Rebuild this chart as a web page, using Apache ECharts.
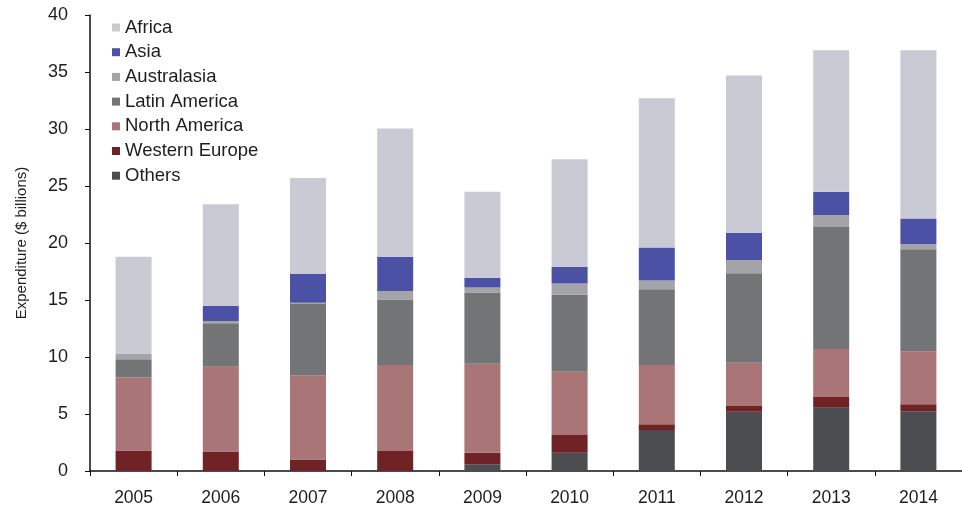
<!DOCTYPE html>
<html>
<head>
<meta charset="utf-8">
<script src="https://cdn.jsdelivr.net/npm/echarts@6/dist/echarts.min.js"></script>
<style>
  html, body { margin: 0; padding: 0; background: #fff; }
  #chart { width: 962px; height: 518px; }
</style>
</head>
<body>
<div id="chart"></div>
<script>
// data
const years = ['2005', '2006', '2007', '2008', '2009', '2010', '2011', '2012', '2013', '2014'];
const yTicks = [0, 5, 10, 15, 20, 25, 30, 35, 40];

// stacked bottom -> top
const others        = [0,    0,    0,    0,    0.6,  1.6,  3.6,  5.2,  5.55, 5.25];
const westernEurope = [1.8,  1.7,  1.0,  1.75, 1.0,  1.55, 0.5,  0.5,  0.95, 0.6];
const northAmerica  = [6.4,  7.45, 7.4,  7.55, 7.8,  5.55, 5.2,  3.8,  4.2,  4.65];
const latinAmerica  = [1.6,  3.8,  6.25, 5.75, 6.25, 6.75, 6.65, 7.85, 10.7, 8.95];
const australasia   = [0.5,  0.2,  0.1,  0.75, 0.45, 1.0,  0.75, 1.15, 1.05, 0.45];
const asia          = [0,    1.35, 2.55, 3.0,  0.85, 1.45, 2.9,  2.4,  2.05, 2.25];
const africa        = [8.5,  8.9,  8.4,  11.25, 7.55, 9.45, 13.1, 13.8, 12.4, 14.75];

const seriesDefs = [
  {name: 'Others', data: others, color: '#4b4d50'},
  {name: 'Western Europe', data: westernEurope, color: '#6f2326'},
  {name: 'North America', data: northAmerica, color: '#a97576'},
  {name: 'Latin America', data: latinAmerica, color: '#727476'},
  {name: 'Australasia', data: australasia, color: '#a4a3a7'},
  {name: 'Asia', data: asia, color: '#4b52a6'},
  {name: 'Africa', data: africa, color: '#cacad5'}
];

const chartInstance = echarts.init(document.getElementById('chart'));
const textColor = '#1e1e1e';
const font = 'Liberation Sans, Arial, sans-serif';

const option = {
  animation: false,
  grid: {
    left: 90,
    right: -11,
    top: 15,
    bottom: 47
  },
  legend: {
    orient: 'vertical',
    left: 107,
    top: 13,
    itemWidth: 8,
    itemHeight: 8,
    itemGap: 5.7,
    icon: 'rect',
    data: seriesDefs.map(s => s.name).reverse(),
    textStyle: {
      fontFamily: font,
      fontSize: 18.5,
      color: textColor
    }
  },
  xAxis: {
    type: 'category',
    data: years,
    axisLine: {lineStyle: {color: '#111', width: 1.5}},
    axisTick: {show: true, length: 5, lineStyle: {color: '#111'}},
    axisLabel: {
      margin: 18,
      fontFamily: font,
      fontSize: 17.5,
      color: textColor
    }
  },
  yAxis: {
    type: 'value',
    min: yTicks[0],
    max: yTicks[yTicks.length - 1],
    interval: 5,
    name: 'Expenditure ($ billions)',
    nameLocation: 'middle',
    nameGap: 61,
    nameTextStyle: {
      fontFamily: font,
      fontSize: 15,
      color: textColor
    },
    axisLine: {show: true, lineStyle: {color: '#111', width: 1.5}},
    axisTick: {show: true, length: 5, lineStyle: {color: '#111'}},
    splitLine: {show: false},
    axisLabel: {
      margin: 22,
      fontFamily: font,
      fontSize: 18,
      color: textColor
    }
  },
  series: seriesDefs.map(s => ({
    name: s.name,
    type: 'bar',
    stack: 'total',
    barWidth: 36,
    data: s.data,
    itemStyle: {color: s.color}
  }))
};
chartInstance.setOption(option);
</script>
</body>
</html>
